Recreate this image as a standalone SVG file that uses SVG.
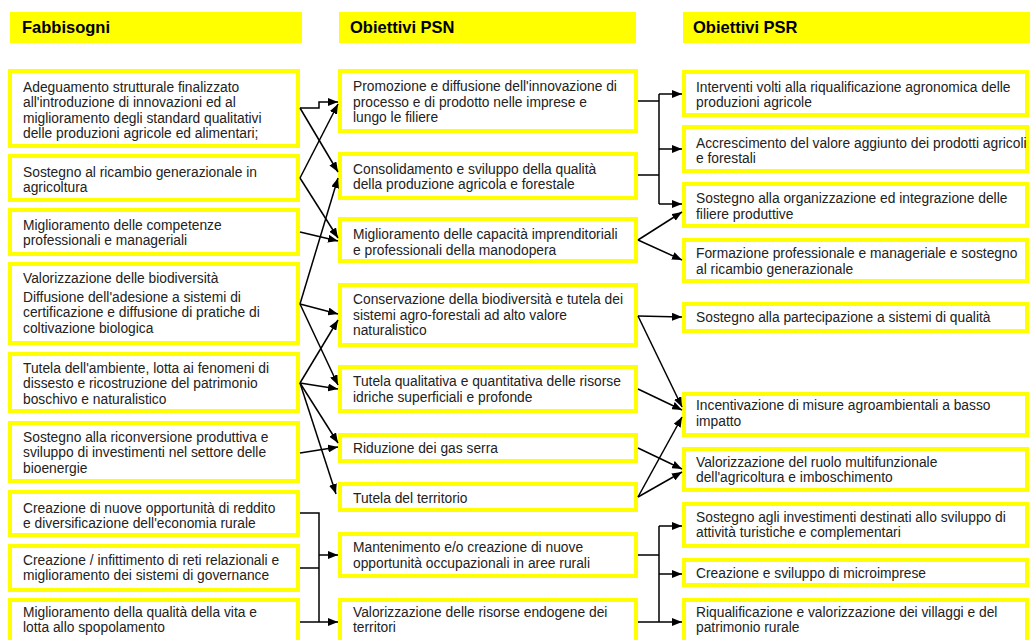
<svg xmlns="http://www.w3.org/2000/svg" width="1030" height="640" viewBox="0 0 1030 640">
<defs>
<marker id="ah" viewBox="0 0 10 8" refX="10" refY="4" markerWidth="10" markerHeight="8" markerUnits="userSpaceOnUse" orient="auto">
<path d="M0,0 L10,4 L0,8 z" fill="#000"/>
</marker>
<style>
.hdr{fill:#FFFF00}
.ht{font-family:"Liberation Sans",Arial,sans-serif;font-weight:bold;font-size:16.5px;fill:#000}
.box{fill:#fff;stroke:#FFFF00;stroke-width:4}
.t{font-family:"Liberation Sans",Arial,sans-serif;font-size:13.8px;fill:#222}
.c{fill:none;stroke:#000;stroke-width:1.5}
.a{fill:none;stroke:#000;stroke-width:1.5;marker-end:url(#ah)}
</style>
</defs>
<rect width="1030" height="640" fill="#fff"/>
<g id="headers">
<rect class="hdr" x="10" y="12" width="292" height="31"/>
<text class="ht" x="22" y="33">Fabbisogni</text>
<rect class="hdr" x="339" y="12" width="297" height="31"/>
<text class="ht" x="350" y="33">Obiettivi PSN</text>
<rect class="hdr" x="683" y="12" width="347" height="31"/>
<text class="ht" x="693" y="33">Obiettivi PSR</text>
</g>
<g id="L1"><rect class="box" x="10" y="71" width="288" height="75"/>
<text class="t" x="23" y="92">Adeguamento strutturale finalizzato</text>
<text class="t" x="23" y="107.4">all'introduzione di innovazioni ed al</text>
<text class="t" x="23" y="122.8">miglioramento degli standard qualitativi</text>
<text class="t" x="23" y="138.2">delle produzioni agricole ed alimentari;</text></g>
<g id="L2"><rect class="box" x="10" y="156" width="288" height="44"/>
<text class="t" x="23" y="176.5">Sostegno al ricambio generazionale in</text>
<text class="t" x="23" y="192">agricoltura</text></g>
<g id="L3"><rect class="box" x="10" y="210" width="288" height="44"/>
<text class="t" x="23" y="229.5">Miglioramento delle competenze</text>
<text class="t" x="23" y="245">professionali e manageriali</text></g>
<g id="L4"><rect class="box" x="10" y="264" width="288" height="79"/>
<text class="t" x="23" y="283">Valorizzazione delle biodiversità</text>
<text class="t" x="23" y="301.5">Diffusione dell'adesione a sistemi di</text>
<text class="t" x="23" y="317">certificazione e diffusione di pratiche di</text>
<text class="t" x="23" y="332.5">coltivazione biologica</text></g>
<g id="L5"><rect class="box" x="10" y="354" width="288" height="57"/>
<text class="t" x="23" y="372.5">Tutela dell'ambiente, lotta ai fenomeni di</text>
<text class="t" x="23" y="388">dissesto e ricostruzione del patrimonio</text>
<text class="t" x="23" y="403.5">boschivo e naturalistico</text></g>
<g id="L6"><rect class="box" x="10" y="423" width="288" height="58"/>
<text class="t" x="23" y="441.5">Sostegno alla riconversione produttiva e</text>
<text class="t" x="23" y="457">sviluppo di investimenti nel settore delle</text>
<text class="t" x="23" y="472.5">bioenergie</text></g>
<g id="L7"><rect class="box" x="10" y="492" width="288" height="43"/>
<text class="t" x="23" y="512.5">Creazione di nuove opportunità di reddito</text>
<text class="t" x="23" y="528">e diversificazione dell'economia rurale</text></g>
<g id="L8"><rect class="box" x="10" y="546" width="288" height="44"/>
<text class="t" x="23" y="564.5">Creazione / infittimento di reti relazionali e</text>
<text class="t" x="23" y="580">miglioramento dei sistemi di governance</text></g>
<g id="L9"><rect class="box" x="10" y="600" width="288" height="46"/>
<text class="t" x="23" y="616.5">Miglioramento della qualità della vita e</text>
<text class="t" x="23" y="632">lotta allo spopolamento</text></g>
<g id="M1"><rect class="box" x="340" y="71" width="296" height="60"/>
<text class="t" x="353" y="91">Promozione e diffusione dell'innovazione di</text>
<text class="t" x="353" y="106.5">processo e di prodotto nelle imprese e</text>
<text class="t" x="353" y="122">lungo le filiere</text></g>
<g id="M2"><rect class="box" x="340" y="154" width="296" height="44"/>
<text class="t" x="353" y="173.5">Consolidamento e sviluppo della qualità</text>
<text class="t" x="353" y="189">della produzione agricola e forestale</text></g>
<g id="M3"><rect class="box" x="340" y="219" width="296" height="42"/>
<text class="t" x="353" y="239">Miglioramento delle capacità imprenditoriali</text>
<text class="t" x="353" y="254.5">e professionali della manodopera</text></g>
<g id="M4"><rect class="box" x="340" y="285" width="296" height="60"/>
<text class="t" x="353" y="304">Conservazione della biodiversità e tutela dei</text>
<text class="t" x="353" y="319.5">sistemi agro-forestali ad alto valore</text>
<text class="t" x="353" y="335">naturalistico</text></g>
<g id="M5"><rect class="box" x="340" y="367" width="296" height="44"/>
<text class="t" x="353" y="386">Tutela qualitativa e quantitativa delle risorse</text>
<text class="t" x="353" y="401.5">idriche superficiali e profonde</text></g>
<g id="M6"><rect class="box" x="340" y="435" width="296" height="26"/>
<text class="t" x="353" y="452.5">Riduzione dei gas serra</text></g>
<g id="M7"><rect class="box" x="340" y="484" width="296" height="26"/>
<text class="t" x="353" y="503">Tutela del territorio</text></g>
<g id="M8"><rect class="box" x="340" y="534" width="296" height="42"/>
<text class="t" x="353" y="552">Mantenimento e/o creazione di nuove</text>
<text class="t" x="353" y="567.5">opportunità occupazionali in aree rurali</text></g>
<g id="M9"><rect class="box" x="340" y="600" width="296" height="46"/>
<text class="t" x="353" y="616.5">Valorizzazione delle risorse endogene dei</text>
<text class="t" x="353" y="632">territori</text></g>
<g id="R1"><rect class="box" x="684" y="72" width="343" height="43"/>
<text class="t" x="696" y="91.5">Interventi volti alla riqualificazione agronomica delle</text>
<text class="t" x="696" y="107">produzioni agricole</text></g>
<g id="R2"><rect class="box" x="684" y="127" width="343" height="44"/>
<text class="t" x="696" y="147.5">Accrescimento del valore aggiunto dei prodotti agricoli</text>
<text class="t" x="696" y="163">e forestali</text></g>
<g id="R3"><rect class="box" x="684" y="184" width="343" height="42"/>
<text class="t" x="696" y="203">Sostegno alla organizzazione ed integrazione delle</text>
<text class="t" x="696" y="218.5">filiere produttive</text></g>
<g id="R4"><rect class="box" x="684" y="240" width="343" height="41"/>
<text class="t" x="696" y="258">Formazione professionale e manageriale e sostegno</text>
<text class="t" x="696" y="273.5">al ricambio generazionale</text></g>
<g id="R5"><rect class="box" x="684" y="304" width="343" height="27"/>
<text class="t" x="696" y="321.5">Sostegno alla partecipazione a sistemi di qualità</text></g>
<g id="R6"><rect class="box" x="684" y="394" width="343" height="41"/>
<text class="t" x="696" y="410">Incentivazione di misure agroambientali a basso</text>
<text class="t" x="696" y="425.5">impatto</text></g>
<g id="R7"><rect class="box" x="684" y="449" width="343" height="41"/>
<text class="t" x="696" y="466.5">Valorizzazione del ruolo multifunzionale</text>
<text class="t" x="696" y="482">dell'agricoltura e imboschimento</text></g>
<g id="R8"><rect class="box" x="684" y="504" width="343" height="42"/>
<text class="t" x="696" y="521.5">Sostegno agli investimenti destinati allo sviluppo di</text>
<text class="t" x="696" y="537">attività turistiche e complementari</text></g>
<g id="R9"><rect class="box" x="684" y="560" width="343" height="25"/>
<text class="t" x="696" y="578">Creazione e sviluppo di microimprese</text></g>
<g id="R10"><rect class="box" x="684" y="600" width="343" height="46"/>
<text class="t" x="696" y="616.5">Riqualificazione e valorizzazione dei villaggi e del</text>
<text class="t" x="696" y="632">patrimonio rurale</text></g>
<g id="connectors">
<path class="a" d="M300,108 H319 V102 H338"/>
<line class="a" x1="300" y1="108" x2="338" y2="172"/>
<line class="a" x1="300" y1="178" x2="338" y2="104"/>
<line class="a" x1="300" y1="178" x2="338" y2="238"/>
<line class="a" x1="300" y1="232" x2="338" y2="241"/>
<line class="a" x1="300" y1="304" x2="338" y2="178"/>
<line class="a" x1="300" y1="304" x2="338" y2="314"/>
<line class="a" x1="300" y1="304" x2="338" y2="385"/>
<line class="a" x1="300" y1="383" x2="338" y2="320"/>
<line class="a" x1="300" y1="383" x2="338" y2="389"/>
<line class="a" x1="300" y1="383" x2="338" y2="443"/>
<line class="a" x1="300" y1="383" x2="336" y2="494"/>
<line class="a" x1="300" y1="453" x2="338" y2="447"/>
<path class="c" d="M300,513 H319 V622"/>
<path class="c" d="M300,568 H319"/>
<line class="a" x1="319" y1="555" x2="338" y2="555"/>
<line class="a" x1="300" y1="622" x2="338" y2="622"/>
<path class="c" d="M638,101 H659 M638,175 H659 M659,94 V204"/>
<line class="a" x1="659" y1="94" x2="682" y2="94"/>
<line class="a" x1="659" y1="149" x2="682" y2="149"/>
<line class="a" x1="659" y1="204" x2="682" y2="204"/>
<line class="a" x1="638" y1="240" x2="682" y2="212"/>
<line class="a" x1="638" y1="240" x2="682" y2="260"/>
<line class="a" x1="638" y1="316" x2="682" y2="317"/>
<line class="a" x1="638" y1="316" x2="682" y2="407"/>
<line class="a" x1="638" y1="389" x2="682" y2="410"/>
<line class="a" x1="638" y1="497" x2="682" y2="417"/>
<line class="a" x1="638" y1="448" x2="682" y2="469"/>
<line class="a" x1="638" y1="497" x2="682" y2="472"/>
<path class="c" d="M638,555 H659 M659,526 V622 M638,622 H659"/>
<line class="a" x1="659" y1="526" x2="682" y2="526"/>
<line class="a" x1="659" y1="574" x2="682" y2="574"/>
<line class="a" x1="659" y1="622" x2="682" y2="622"/>
</g>
</svg>
